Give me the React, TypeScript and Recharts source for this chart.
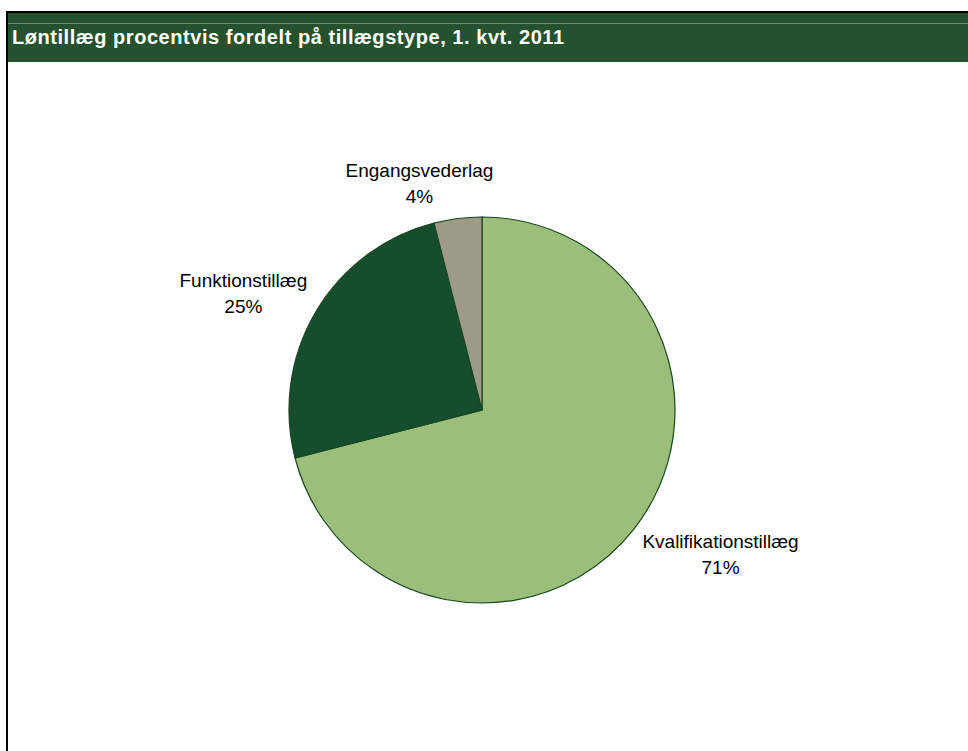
import React from 'react';
import { PieChart, Pie, Cell } from 'recharts';

const categories = ['Kvalifikationstillæg', 'Funktionstillæg', 'Engangsvederlag'];
const shares = [71, 25, 4];
const sliceColors = ['#9BBF7A', '#154D2E', '#9D9B87'];
const titleText = 'Løntillæg procentvis fordelt på tillægstype, 1. kvt. 2011';

const data = categories.map((name, i) => ({ name, value: shares[i] }));

const LABEL_FONT = 'Arial, "Liberation Sans", sans-serif';
const LABEL_SIZE = 19;

let measureCtx: CanvasRenderingContext2D | null = null;
function textWidth(t: string): number {
  try {
    if (!measureCtx) {
      const c = document.createElement('canvas');
      measureCtx = c.getContext('2d');
    }
    if (measureCtx) {
      measureCtx.font = `${LABEL_SIZE}px Arial, "Liberation Sans", sans-serif`;
      return measureCtx.measureText(t).width;
    }
  } catch (e) {}
  return t.length * LABEL_SIZE * 0.5;
}

const clamp = (v: number) => Math.max(-1, Math.min(1, v));

function renderLabel(props: any) {
  const { cx, cy, midAngle, outerRadius, value } = props;
  const name = props.name ?? props.payload?.name;
  const RAD = Math.PI / 180;
  const c = Math.cos(midAngle * RAD);
  const s = Math.sin(midAngle * RAD);
  const d = 10;
  const px = cx + (outerRadius + d) * c;
  const py = cy - (outerRadius + d) * s;
  const w = textWidth(String(name));
  const h = 40;
  const bx = px + (w / 2) * clamp(c * 4);
  const by = py + (h / 2) * (-s * (s > 0 ? 1.3 : 1.63));
  return (
    <text
      x={bx}
      y={by}
      textAnchor="middle"
      fill="#000"
      fontFamily={LABEL_FONT}
      fontSize={LABEL_SIZE}
    >
      <tspan x={bx} y={by - 6}>{name}</tspan>
      <tspan x={bx} y={by + 20}>{`${value}%`}</tspan>
    </text>
  );
}

export default function App() {
  return (
    <div
      style={{
        position: 'absolute',
        left: 0,
        top: 0,
        width: 968,
        height: 751,
        background: '#fff',
        overflow: 'hidden',
      }}
    >
      <div
        style={{
          position: 'absolute',
          left: 6,
          top: 11,
          width: 962,
          height: 740,
          borderLeft: '2px solid #000',
          borderTop: '2px solid #000',
          boxSizing: 'border-box',
        }}
      >
        <div
          style={{
            position: 'absolute',
            left: 0,
            top: 0,
            right: 0,
            height: 49,
            background: '#25512E',
          }}
        >
          <div
            style={{
              position: 'absolute',
              left: 0,
              right: 0,
              top: 10,
              height: 1,
              background: '#6E8C70',
            }}
          />
          <div
            style={{
              position: 'absolute',
              left: 4,
              top: 14,
              color: '#fff',
              fontFamily: 'Arial, "Liberation Sans", sans-serif',
              fontWeight: 'bold',
              fontSize: 20,
              letterSpacing: 0.55,
              lineHeight: '20px',
              whiteSpace: 'nowrap',
            }}
          >
            {titleText}
          </div>
        </div>
      </div>
      <div style={{ position: 'absolute', left: 0, top: 0 }}>
        <PieChart width={968} height={751} margin={{ top: 0, right: 0, bottom: 0, left: 0 }}>
          <Pie
            data={data}
            dataKey="value"
            nameKey="name"
            cx={482}
            cy={410}
            outerRadius={193}
            startAngle={90}
            endAngle={-270}
            stroke="#17461F"
            strokeWidth={1.2}
            label={renderLabel}
            labelLine={false}
            isAnimationActive={false}
          >
            {data.map((d, i) => (
              <Cell key={d.name} fill={sliceColors[i]} />
            ))}
          </Pie>
        </PieChart>
      </div>
    </div>
  );
}
